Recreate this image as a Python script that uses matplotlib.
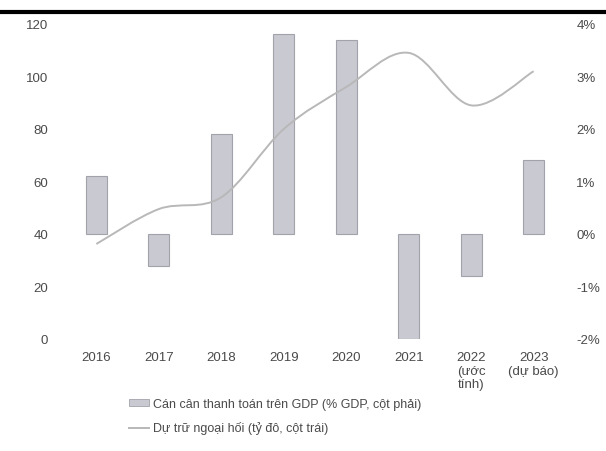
import matplotlib
matplotlib.use("Agg")
import matplotlib.pyplot as plt
from matplotlib.path import Path
from matplotlib.patches import PathPatch, Patch
from matplotlib.lines import Line2D

plt.rcParams['font.family'] = ['Liberation Sans', 'DejaVu Sans']

years = ['2016', '2017', '2018', '2019', '2020', '2021', '2022\n(ước\ntính)', '2023\n(dự báo)']
bop_pct = [1.1, -0.6, 1.9, 3.8, 3.7, -2.0, -0.8, 1.4]          # % GDP, right axis
reserves = [36.2, 49.5, 54.0, 80.0, 96.0, 109.0, 89.0, 102.0]  # bn USD, left axis
left_ticks = [0, 20, 40, 60, 80, 100, 120]
right_ticks = [-2, -1, 0, 1, 2, 3, 4]

txt = '#4a4a4a'
bar_face = '#c9c9d2'
bar_edge = '#a2a2aa'
line_col = '#b8b8b8'

fig = plt.figure(figsize=(6.06, 4.52), dpi=100)
ax = fig.add_axes([62 / 606, 1 - 340 / 452, 506 / 606, 315 / 452])
ax2 = ax.twinx()

x = list(range(len(years)))

# bars on the right axis
ax2.bar(x, bop_pct, width=0.34, color=bar_face, edgecolor=bar_edge, linewidth=0.8)
ax2.set_ylim(-2, 4)
ax2.set_yticks(right_ticks)
ax2.set_yticklabels([f'{t}%' for t in right_ticks])

# smooth line on the left axis (Catmull-Rom -> cubic bezier through data points)
verts = [(x[0], reserves[0])]
codes = [Path.MOVETO]
n = len(x)
for i in range(n - 1):
    p0 = (x[max(i - 1, 0)], reserves[max(i - 1, 0)])
    p1 = (x[i], reserves[i])
    p2 = (x[i + 1], reserves[i + 1])
    p3 = (x[min(i + 2, n - 1)], reserves[min(i + 2, n - 1)])
    c1 = (p1[0] + (p2[0] - p0[0]) / 6, p1[1] + (p2[1] - p0[1]) / 6)
    c2 = (p2[0] - (p3[0] - p1[0]) / 6, p2[1] - (p3[1] - p1[1]) / 6)
    verts += [c1, c2, p2]
    codes += [Path.CURVE4] * 3
ax.add_patch(PathPatch(Path(verts, codes), facecolor='none', edgecolor=line_col, lw=1.4))
ax.set_ylim(0, 120)
ax.set_yticks(left_ticks)
ax.set_xlim(-0.55, 7.55)
ax.set_xticks(x)
ax.set_xticklabels(years, linespacing=1.15, va='top')

ax.set_zorder(ax2.get_zorder() + 1)
ax.patch.set_visible(False)

for a in (ax, ax2):
    for s in a.spines.values():
        s.set_visible(False)
    a.tick_params(length=0, labelsize=9.5, labelcolor=txt)
ax.tick_params(axis='y', pad=10)
ax.tick_params(axis='x', pad=9)
ax2.tick_params(axis='y', pad=6)

handles = [Patch(facecolor=bar_face, edgecolor=bar_edge, linewidth=0.6),
           Line2D([], [], color=line_col, lw=1.4)]
labels = ['Cán cân thanh toán trên GDP (% GDP, cột phải)',
          'Dự trữ ngoại hối (tỷ đô, cột trái)']
fig.legend(handles, labels, loc='upper left', bbox_to_anchor=(118 / 606, 1 - 388 / 452),
           frameon=False, fontsize=9, labelcolor=txt, handlelength=1.6,
           handleheight=0.5, handletextpad=0.3, labelspacing=0.9)

# dark scan band along the top edge
fig.add_artist(Line2D([0, 1], [1 - 13 / 452, 1 - 13 / 452], color='black', lw=3,
                      transform=fig.transFigure))

fig.savefig('out.png', dpi=100)
